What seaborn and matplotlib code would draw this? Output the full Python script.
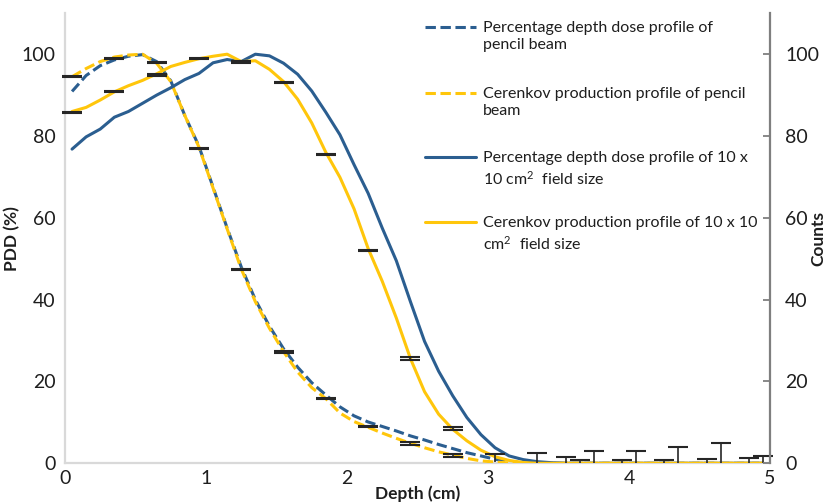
import matplotlib
matplotlib.use("Agg")
import matplotlib.pyplot as plt
import seaborn as sns

# Depth positions of the profile curves (cm)
depth = [0.05, 0.15, 0.25, 0.35, 0.45, 0.55, 0.65, 0.75, 0.85, 0.95,
         1.05, 1.15, 1.25, 1.35, 1.45, 1.55, 1.65, 1.75, 1.85, 1.95,
         2.05, 2.15, 2.25, 2.35, 2.45, 2.55, 2.65, 2.75, 2.85, 2.95,
         3.05, 3.15, 3.25, 3.35, 3.45, 3.55, 3.65, 3.75, 3.85, 3.95,
         4.05, 4.15, 4.25, 4.35, 4.45, 4.55, 4.65, 4.75, 4.85, 4.95]

# Pencil beam: percentage depth dose and Cerenkov production (%)
pdd_pencil = [90.9, 94.8, 97.2, 98.6, 99.5, 99.9, 98.2, 93.5, 85.0, 77.5,
              67.5, 57.5, 48.0, 40.0, 33.5, 28.0, 23.5, 19.7, 16.7, 13.8,
              11.6, 10.1, 9.0, 7.9, 6.7, 5.7, 4.6, 3.6, 2.6, 1.8,
              1.0, 0.4, 0.1, 0.0, 0.0, 0.0, 0.0, 0.0, 0.0, 0.0,
              0.0, 0.0, 0.0, 0.0, 0.0, 0.0, 0.0, 0.0, 0.0, 0.0]
cer_pencil = [94.5, 96.5, 98.2, 99.3, 99.8, 100.0, 97.8, 93.3, 85.0, 77.3,
              67.3, 57.3, 47.5, 39.5, 33.0, 27.3, 22.3, 18.5, 15.8, 12.3,
              10.2, 8.8, 7.4, 6.1, 4.9, 3.8, 2.8, 2.0, 1.2, 0.6,
              0.3, 0.1, 0.0, 0.0, 0.0, 0.0, 0.0, 0.0, 0.0, 0.0,
              0.0, 0.0, 0.0, 0.0, 0.0, 0.0, 0.0, 0.0, 0.0, 0.0]

# 10 x 10 cm2 field: percentage depth dose and Cerenkov production (%)
pdd_field = [76.8, 79.8, 81.7, 84.6, 86.0, 88.0, 90.0, 91.8, 93.8, 95.3,
             97.9, 98.7, 98.2, 100.0, 99.6, 97.8, 95.1, 91.0, 85.8, 80.3,
             73.0, 66.0, 57.5, 49.5, 39.5, 29.8, 22.5, 16.5, 11.2, 7.0,
             3.8, 1.8, 0.9, 0.4, 0.15, 0.0, 0.0, 0.0, 0.0, 0.0,
             0.0, 0.0, 0.0, 0.0, 0.0, 0.0, 0.0, 0.0, 0.0, 0.0]
cer_field = [86.0, 87.0, 88.8, 90.8, 92.3, 93.6, 95.2, 97.0, 98.0, 98.9,
             99.5, 100.0, 98.2, 98.4, 96.3, 93.3, 89.0, 83.2, 76.0, 69.9,
             62.2, 52.5, 44.5, 35.5, 25.6, 17.5, 12.0, 8.3, 5.5, 3.2,
             1.6, 0.7, 0.2, 0.0, 0.0, 0.0, 0.0, 0.0, 0.0, 0.0,
             0.0, 0.0, 0.0, 0.0, 0.0, 0.0, 0.0, 0.0, 0.0, 0.0]

# Measured Cerenkov counts with uncertainties
pencil_pts_x = [0.05, 0.35, 0.65, 0.95, 1.25, 1.55, 1.85, 2.15, 2.45, 2.75]
pencil_pts_y = [94.5, 99.0, 97.9, 77.0, 47.3, 27.2, 15.9, 9.0, 4.9, 2.0]
field_pts_x = [0.05, 0.35, 0.65, 0.95, 1.25, 1.55, 1.85, 2.15, 2.45, 2.75]
field_pts_y = [85.8, 90.8, 94.9, 98.9, 98.1, 93.0, 75.5, 52.0, 25.6, 8.5]
pts_err = [0.15, 0.15, 0.15, 0.15, 0.15, 0.15, 0.15, 0.15, 0.35, 0.35]

# Tail counts (upper uncertainty only)
tail_x = [3.05, 3.35, 3.55, 3.65, 3.75, 3.95, 4.05, 4.25, 4.35, 4.55, 4.65, 4.85, 4.95]
tail_y = [0.3, 0.0, 0.0, 0.0, 0.0, 0.0, 0.0, 0.0, 0.0, 0.0, 0.0, 0.0, 0.0]
tail_err = [2.0, 2.5, 1.6, 0.7, 2.9, 0.9, 2.9, 0.9, 3.9, 1.1, 4.9, 1.2, 1.8]

legend_labels = [
    "Percentage depth dose profile of\npencil beam",
    "Cerenkov production profile of pencil\nbeam",
    "Percentage depth dose profile of 10 x\n10 cm$^{\\mathrm{2}}$  field size",
    "Cerenkov production profile of 10 x 10\ncm$^{\\mathrm{2}}$  field size",
]

BLUE = "#2B5E90"
GOLD = "#FFC60B"
TEXT = "#1E1E1E"
W, H = 829, 504

sns.set_theme(style="white")
plt.rcParams["font.family"] = ["Lato", "DejaVu Sans"]
plt.rcParams["mathtext.fontset"] = "custom"
plt.rcParams["mathtext.rm"] = "Lato"
plt.rcParams["mathtext.it"] = "Lato:italic"
plt.rcParams["mathtext.bf"] = "Lato:bold"

fig = plt.figure(figsize=(W / 100, H / 100), dpi=100)
ax = fig.add_axes([65 / W, 1 - 463.3 / H, (770 - 65) / W, (463.3 - 13.3) / H])

dash = (0, (3.4, 1.5))
series = [
    (pdd_pencil, BLUE, dash),
    (cer_pencil, GOLD, dash),
    (pdd_field, BLUE, "-"),
    (cer_field, GOLD, "-"),
]
for i, (vals, col, ls) in enumerate(series):
    sns.lineplot(x=depth, y=vals, ax=ax, color=col, linewidth=2.2,
                 linestyle=ls, zorder=2 + i, estimator=None, sort=False)

eb_kw = dict(fmt="none", ecolor="#262626", elinewidth=1.2, capsize=7,
             capthick=1.5, zorder=8, clip_on=False)
ax.errorbar(pencil_pts_x, pencil_pts_y, yerr=pts_err, **eb_kw)
ax.errorbar(field_pts_x, field_pts_y, yerr=pts_err, **eb_kw)
tail = ax.errorbar(tail_x, tail_y, yerr=[[0] * len(tail_err), tail_err], **eb_kw)
tail[1][0].set_visible(False)

ax.set_xlim(0, 5)
ax.set_ylim(0, 110)
ax.set_xticks([0, 1, 2, 3, 4, 5])
ax.set_yticks([0, 20, 40, 60, 80, 100])
ax.tick_params(axis="both", length=0, labelsize=14, labelcolor=TEXT)
ax.tick_params(axis="y", pad=7)
ax.tick_params(axis="x", pad=5)
for side in ("top", "right"):
    ax.spines[side].set_visible(False)
for side in ("left", "bottom"):
    ax.spines[side].set_color("#D9D9D9")
    ax.spines[side].set_linewidth(1.6)
ax.set_xlabel("Depth (cm)", fontsize=12.5, fontweight="bold", color=TEXT)
ax.set_ylabel("PDD (%)", fontsize=12.5, fontweight="bold", color=TEXT)
ax.xaxis.set_label_coords(0.5, -(485 - 463.3) / 450)
ax.yaxis.set_label_coords((20 - 65) / 705, 0.5)

ax2 = ax.twinx()
ax2.set_ylim(0, 110)
ax2.set_yticks([0, 20, 40, 60, 80, 100])
ax2.tick_params(axis="y", direction="in", length=5, width=1.3, color="#7F7F7F",
                labelsize=14, labelcolor=TEXT, pad=11)
for side in ("top", "left", "bottom"):
    ax2.spines[side].set_visible(False)
ax2.spines["right"].set_color("#7F7F7F")
ax2.spines["right"].set_linewidth(1.6)
ax2.set_ylabel("Counts", fontsize=12.5, fontweight="bold", color=TEXT, rotation=90)
ax2.yaxis.set_label_coords((810 - 65) / 705, 0.5)

# Legend with handles aligned to the first line of each label
legend_y = [27, 93, 157, 222]
legend_styles = [(BLUE, dash), (GOLD, dash), (BLUE, "-"), (GOLD, "-")]
for y, (col, ls), lab in zip(legend_y, legend_styles, legend_labels):
    fig.add_artist(plt.Line2D([425 / W, 476 / W], [1 - y / H, 1 - y / H],
                              color=col, linewidth=2.2, linestyle=ls))
    fig.text(483 / W, 1 - (y - 6) / H, lab, fontsize=11.5, color=TEXT,
             va="top", ha="left", linespacing=1.3)

fig.savefig("out.png", dpi=100)
